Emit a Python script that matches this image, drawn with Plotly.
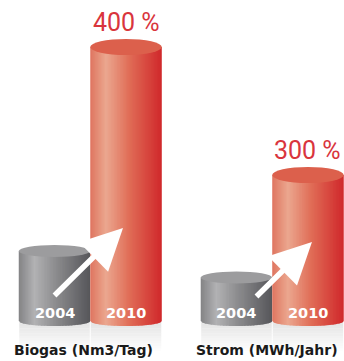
import plotly.graph_objects as go
import numpy as np

# ---- data ----
groups = ["Biogas (Nm3/Tag)", "Strom (MWh/Jahr)"]
years = ["2004", "2010"]
values_2004 = [70, 43.5]      # relative cylinder heights
values_2010 = [274, 146]
growth_labels = ["400 %", "300 %"]

# ---- styling / geometry ----
group_pos = [0.0, 2.545]
bar_w = 1.0
ry_top = {"2004": 6, "2010": 8}
ry_bot = 5
N = 48

grey_stops = [(0.0, "#838385"), (0.22, "#b2b2b4"), (0.5, "#8e8e90"), (1.0, "#56565a")]
red_stops = [(0.0, "#df7560"), (0.22, "#eba78f"), (0.55, "#e06c56"), (1.0, "#d0282b")]
top_col = {"2004": "#9c9c9e", "2010": "#dc604c"}
stops = {"2004": grey_stops, "2010": red_stops}


def hex2rgb(h):
    h = h.lstrip("#")
    return np.array([int(h[i:i + 2], 16) for i in (0, 2, 4)], float)


def grad(st, t):
    for (t0, c0), (t1, c1) in zip(st[:-1], st[1:]):
        if t <= t1:
            f = (t - t0) / (t1 - t0)
            c = hex2rgb(c0) * (1 - f) + hex2rgb(c1) * f
            return "rgb(%d,%d,%d)" % tuple(np.round(c))
    c = hex2rgb(st[-1][1])
    return "rgb(%d,%d,%d)" % tuple(c)


shapes = []
annotations = []

def cylinder(center, h, year):
    left = center - bar_w / 2
    # reflection
    nb = 12
    depth = 30
    for k in range(nb):
        y0 = -k * depth / nb
        y1 = -(k + 1) * depth / nb - 0.3
        f = k / nb
        g = int(round(228 + (255 - 228) * f))
        shapes.append(dict(type="rect", xref="x", yref="y",
                           x0=left + 0.007, x1=left + bar_w - 0.007, y0=y0, y1=y1,
                           fillcolor="rgb(%d,%d,%d)" % (g, g, g), line=dict(width=0),
                           layer="below"))
    # body strips
    for i in range(N):
        ta = i / N
        tb = min(1.0, (i + 1.6) / N)
        tc = (i + 0.5) / N
        xa = left + ta * bar_w
        xb = left + tb * bar_w
        ya = -ry_bot * np.sqrt(max(0.0, 1 - (2 * ta - 1) ** 2))
        yb = -ry_bot * np.sqrt(max(0.0, 1 - (2 * tb - 1) ** 2))
        path = f"M {xa:.5f},{ya:.3f} L {xa:.5f},{h:.3f} L {xb:.5f},{h:.3f} L {xb:.5f},{yb:.3f} Z"
        shapes.append(dict(type="path", xref="x", yref="y", path=path,
                           fillcolor=grad(stops[year], tc), line=dict(width=0)))
    # top ellipse
    r = ry_top[year]
    shapes.append(dict(type="circle", xref="x", yref="y",
                       x0=left, x1=left + bar_w, y0=h - r, y1=h + r,
                       fillcolor=top_col[year], line=dict(width=0)))
    # year label
    annotations.append(dict(x=center, y=8, xref="x", yref="y", text=year,
                            showarrow=False,
                            font=dict(family="DejaVu Sans", size=14.5, color="white", weight="bold")))


arrow_tail = [(-0.521, 24), (-0.241, 23)]
arrow_tip = [(0.458, 93), (0.556, 79)]

for gi, g in enumerate(group_pos):
    c04 = g - bar_w / 2
    c10 = g + bar_w / 2
    cylinder(c04, values_2004[gi], "2004")
    cylinder(c10, values_2010[gi], "2010")
    annotations.append(dict(x=c10, y=values_2010[gi], yshift=24.5, xref="x", yref="y",
                            text=growth_labels[gi], showarrow=False, yanchor="middle",
                            font=dict(family="Roboto", size=25, color="#d9353d")))
    annotations.append(dict(x=g - bar_w, y=-29, xref="x", yref="y", xanchor="left",
                            xshift=-7, text=groups[gi], showarrow=False,
                            font=dict(family="DejaVu Sans", size=14, color="#1a1a1a", weight="bold")))
    annotations.append(dict(x=g + arrow_tip[gi][0], y=arrow_tip[gi][1],
                            ax=g + arrow_tail[gi][0], ay=arrow_tail[gi][1],
                            xref="x", yref="y", axref="x", ayref="y", text="",
                            showarrow=True, arrowhead=2, arrowsize=1.5, arrowwidth=5.5,
                            arrowcolor="white", standoff=0, startstandoff=0))

fig = go.Figure()
fig.add_trace(go.Scatter(x=[None], y=[None], showlegend=False))
fig.update_layout(
    width=344, height=361, margin=dict(l=0, r=0, t=0, b=0),
    paper_bgcolor="white", plot_bgcolor="white",
    xaxis=dict(range=[-90.25 / 71.5, (344 - 90.25) / 71.5], visible=False, fixedrange=True),
    yaxis=dict(range=[-40, 321], visible=False, fixedrange=True),
    shapes=shapes, annotations=annotations, showlegend=False,
)
fig.write_html("out.html", config={"displayModeBar": False})
